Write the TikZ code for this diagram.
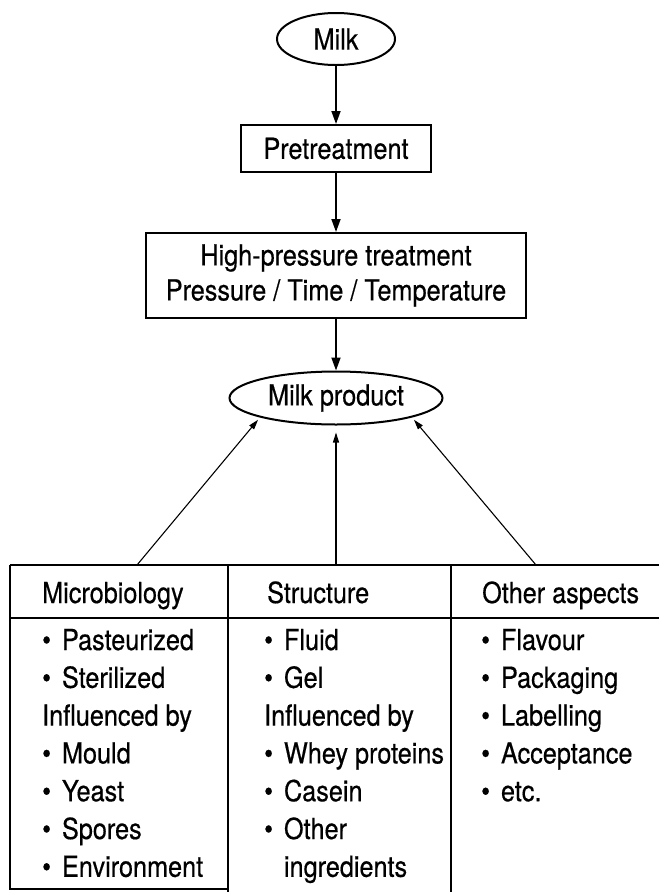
\documentclass[tikz,border=0pt]{standalone}
\usepackage{fontspec}
\setmainfont{TeX Gyre Heros}[FakeStretch=0.87, FakeBold=0.5]
\usetikzlibrary{shapes.geometric,arrows.meta,positioning}
\newcommand{\bul}{\textbullet\hspace{11pt}}

\begin{document}
\begin{tikzpicture}[x=1pt, y=1pt, font=\fontsize{29}{35}\selectfont,
		oval/.style={ellipse, draw, line width=2pt, inner sep=0pt},
		stage/.style={draw, line width=2pt, align=center, inner sep=0pt},
		flow/.style={-{Triangle[length=13pt,width=9pt]}, line width=1.8pt},
		feed/.style={-{Triangle[length=10pt,width=6pt]}, line width=1.1pt},
		rule/.style={line width=2pt},
		cell/.style={anchor=base west, inner sep=0pt}]
	\useasboundingbox (0,0) rectangle (659,-892);
	% flow from milk to product
	\node[oval, minimum width=118, minimum height=52] (milk) at (336,-39) {Milk};
	\node[stage, minimum width=190, minimum height=47] (pre) at (336,-148.5) {Pretreatment};
	\node[stage, minimum width=380, minimum height=85] (hpt) at (336,-275.5)
		{High-pressure treatment\\Pressure / Time / Temperature};
	\node[oval, minimum width=213, minimum height=53] (prod) at (336,-398) {Milk product};
	\path[flow]
		(milk) edge (pre)
		(pre) edge (hpt)
		(hpt) edge (prod);
	% table of aspects
	\draw[rule] (10,-565) -- (659,-565)
		(10,-618) -- (659,-618)
		(10,-565) -- (10,-889) -- (229,-889)
		(228,-565) -- (228,-892)
		(451,-565) -- (451,-892);
	\coordinate (m0) at (137,-565);
	\coordinate (s0) at (336,-565);
	\coordinate (o0) at (536,-565);
	\draw[feed, shorten >=3pt] (m0) -- (prod.south west);
	\draw[feed, shorten >=7pt] (s0) -- (prod.south);
	\draw[feed, shorten >=3pt] (o0) -- (prod.south east);
	\node[cell] (mic) at (42,-603) {Microbiology};
	\node[cell] (str) at (267,-603) {Structure};
	\node[cell] (oth) at (482,-603) {Other aspects};
	\foreach \t [count=\i] in {\bul Pasteurized, \bul Sterilized, Influenced by,
			\bul Mould, \bul Yeast, \bul Spores, \bul Environment}
		\node[cell] (mic-\i) at (42,{-650-37.8*(\i-1)}) {\t};
	\foreach \t [count=\i] in {\bul Fluid, \bul Gel, Influenced by, \bul Whey proteins,
			\bul Casein, \bul Other, \phantom{\bul}ingredients}
		\node[cell] (str-\i) at (264,{-650-37.8*(\i-1)}) {\t};
	\foreach \t [count=\i] in {\bul Flavour, \bul Packaging, \bul Labelling,
			\bul Acceptance, \bul etc.}
		\node[cell] (oth-\i) at (481,{-650-37.8*(\i-1)}) {\t};
\end{tikzpicture}
\end{document}
